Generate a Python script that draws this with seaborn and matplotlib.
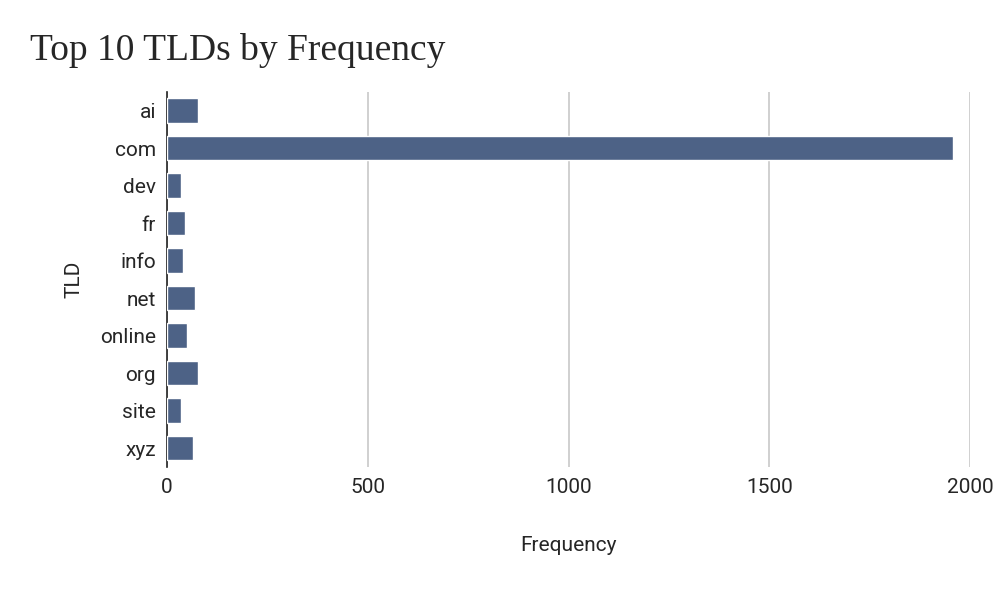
import matplotlib
matplotlib.use('Agg')
import matplotlib.pyplot as plt
import seaborn as sns
import pandas as pd

tlds = ['ai', 'com', 'dev', 'fr', 'info', 'net', 'online', 'org', 'site', 'xyz']
freq = [76, 1958, 36, 45, 41, 70, 51, 76, 36, 66]

sns.set_style('white')
plt.rcParams['font.family'] = ['Roboto', 'DejaVu Sans']

df = pd.DataFrame({'TLD': tlds, 'Frequency': freq})

fig = plt.figure(figsize=(10, 6), dpi=100)
ax = fig.add_axes([0.167, 0.222, 0.803, 0.625])
sns.barplot(data=df, x='Frequency', y='TLD', color='#445f8f', width=0.65, ax=ax, zorder=3)

ax.set_xlim(0, 2000)
ax.set_xticks([0, 500, 1000, 1500, 2000])
ax.grid(axis='x', color='#c8c8c8', linewidth=1.2, zorder=0)
for s in ['top', 'right', 'bottom']:
    ax.spines[s].set_visible(False)
ax.spines['left'].set_color('#222222')
ax.spines['left'].set_linewidth(1.2)
ax.tick_params(axis='both', labelsize=15, length=0, pad=8)
ax.set_xlabel('Frequency', fontsize=15, labelpad=28)
ax.set_ylabel('TLD', fontsize=15, labelpad=12)

fig.text(0.03, 0.915, 'Top 10 TLDs by Frequency', fontsize=27,
         family=['Liberation Serif', 'DejaVu Serif'], va='center')

fig.savefig('out.png', dpi=100)
